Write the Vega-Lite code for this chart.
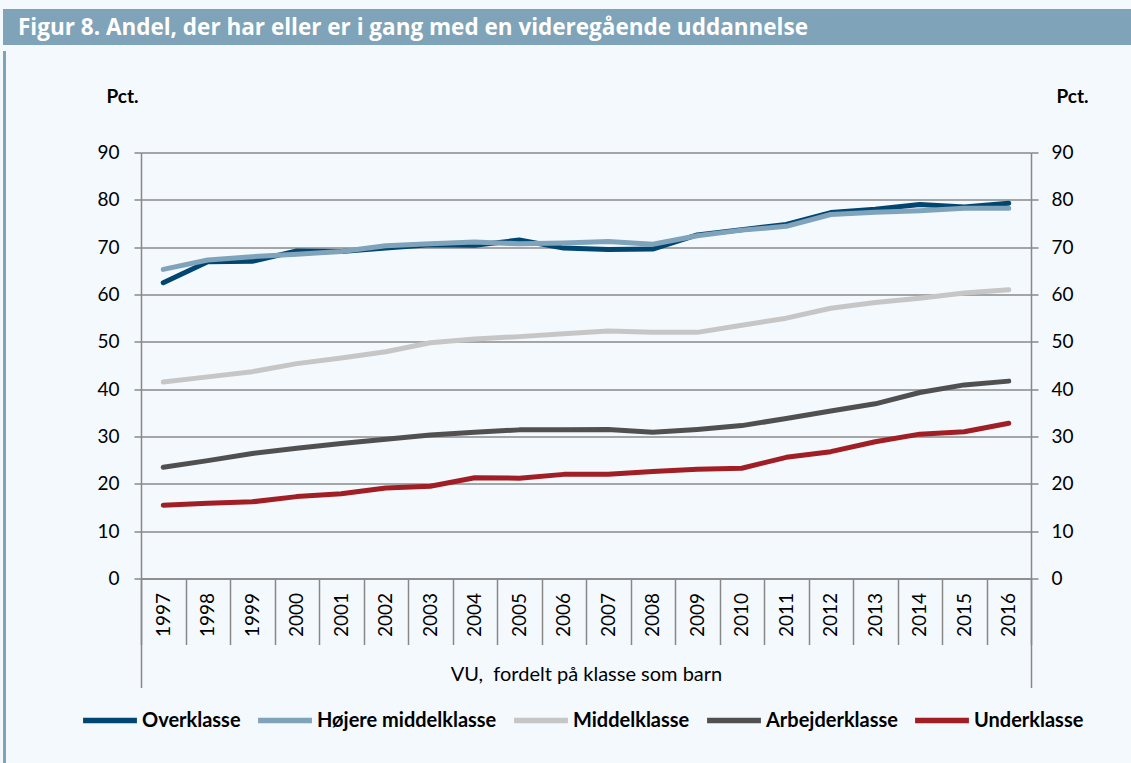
{
  "$schema": "https://vega.github.io/schema/vega-lite/v6.json",
  "padding": {"left": 3, "top": 9, "right": 0, "bottom": 0},
  "background": "#f4f9fd",
  "config": {
    "font": "Lato",
    "view": {"stroke": null},
    "axis": {"labelFont": "Lato", "titleFont": "Lato", "labelColor": "#000000", "titleColor": "#000000"},
    "legend": {"labelFont": "Lato"}
  },
  "datasets": {
    "blank": [{"s": ""}],
    "title": [{"t": "Figur 8. Andel, der har eller er i gang med en videregående uddannelse"}],
    "main": [
      {"year": "1997", "series": "Overklasse", "value": 62.5},
      {"year": "1998", "series": "Overklasse", "value": 66.9},
      {"year": "1999", "series": "Overklasse", "value": 67.0},
      {"year": "2000", "series": "Overklasse", "value": 69.2},
      {"year": "2001", "series": "Overklasse", "value": 69.1},
      {"year": "2002", "series": "Overklasse", "value": 69.8},
      {"year": "2003", "series": "Overklasse", "value": 70.5},
      {"year": "2004", "series": "Overklasse", "value": 70.4},
      {"year": "2005", "series": "Overklasse", "value": 71.5},
      {"year": "2006", "series": "Overklasse", "value": 69.8},
      {"year": "2007", "series": "Overklasse", "value": 69.5},
      {"year": "2008", "series": "Overklasse", "value": 69.6},
      {"year": "2009", "series": "Overklasse", "value": 72.6},
      {"year": "2010", "series": "Overklasse", "value": 73.7},
      {"year": "2011", "series": "Overklasse", "value": 74.8},
      {"year": "2012", "series": "Overklasse", "value": 77.3},
      {"year": "2013", "series": "Overklasse", "value": 78.0},
      {"year": "2014", "series": "Overklasse", "value": 79.0},
      {"year": "2015", "series": "Overklasse", "value": 78.5},
      {"year": "2016", "series": "Overklasse", "value": 79.3},
      {"year": "1997", "series": "Højere middelklasse", "value": 65.3},
      {"year": "1998", "series": "Højere middelklasse", "value": 67.3},
      {"year": "1999", "series": "Højere middelklasse", "value": 68.0},
      {"year": "2000", "series": "Højere middelklasse", "value": 68.5},
      {"year": "2001", "series": "Højere middelklasse", "value": 69.1},
      {"year": "2002", "series": "Højere middelklasse", "value": 70.3},
      {"year": "2003", "series": "Højere middelklasse", "value": 70.7},
      {"year": "2004", "series": "Højere middelklasse", "value": 71.1},
      {"year": "2005", "series": "Højere middelklasse", "value": 70.7},
      {"year": "2006", "series": "Højere middelklasse", "value": 70.9},
      {"year": "2007", "series": "Højere middelklasse", "value": 71.2},
      {"year": "2008", "series": "Højere middelklasse", "value": 70.6},
      {"year": "2009", "series": "Højere middelklasse", "value": 72.4},
      {"year": "2010", "series": "Højere middelklasse", "value": 73.6},
      {"year": "2011", "series": "Højere middelklasse", "value": 74.4},
      {"year": "2012", "series": "Højere middelklasse", "value": 76.9},
      {"year": "2013", "series": "Højere middelklasse", "value": 77.4},
      {"year": "2014", "series": "Højere middelklasse", "value": 77.7},
      {"year": "2015", "series": "Højere middelklasse", "value": 78.2},
      {"year": "2016", "series": "Højere middelklasse", "value": 78.2},
      {"year": "1997", "series": "Middelklasse", "value": 41.5},
      {"year": "1998", "series": "Middelklasse", "value": 42.6},
      {"year": "1999", "series": "Middelklasse", "value": 43.7},
      {"year": "2000", "series": "Middelklasse", "value": 45.4},
      {"year": "2001", "series": "Middelklasse", "value": 46.6},
      {"year": "2002", "series": "Middelklasse", "value": 47.9},
      {"year": "2003", "series": "Middelklasse", "value": 49.8},
      {"year": "2004", "series": "Middelklasse", "value": 50.6},
      {"year": "2005", "series": "Middelklasse", "value": 51.1},
      {"year": "2006", "series": "Middelklasse", "value": 51.7},
      {"year": "2007", "series": "Middelklasse", "value": 52.3},
      {"year": "2008", "series": "Middelklasse", "value": 52.0},
      {"year": "2009", "series": "Middelklasse", "value": 52.0},
      {"year": "2010", "series": "Middelklasse", "value": 53.5},
      {"year": "2011", "series": "Middelklasse", "value": 55.0},
      {"year": "2012", "series": "Middelklasse", "value": 57.1},
      {"year": "2013", "series": "Middelklasse", "value": 58.3},
      {"year": "2014", "series": "Middelklasse", "value": 59.2},
      {"year": "2015", "series": "Middelklasse", "value": 60.3},
      {"year": "2016", "series": "Middelklasse", "value": 61.0},
      {"year": "1997", "series": "Arbejderklasse", "value": 23.5},
      {"year": "1998", "series": "Arbejderklasse", "value": 24.9},
      {"year": "1999", "series": "Arbejderklasse", "value": 26.4},
      {"year": "2000", "series": "Arbejderklasse", "value": 27.5},
      {"year": "2001", "series": "Arbejderklasse", "value": 28.5},
      {"year": "2002", "series": "Arbejderklasse", "value": 29.4},
      {"year": "2003", "series": "Arbejderklasse", "value": 30.3},
      {"year": "2004", "series": "Arbejderklasse", "value": 30.9},
      {"year": "2005", "series": "Arbejderklasse", "value": 31.4},
      {"year": "2006", "series": "Arbejderklasse", "value": 31.4},
      {"year": "2007", "series": "Arbejderklasse", "value": 31.5},
      {"year": "2008", "series": "Arbejderklasse", "value": 30.9},
      {"year": "2009", "series": "Arbejderklasse", "value": 31.5},
      {"year": "2010", "series": "Arbejderklasse", "value": 32.3},
      {"year": "2011", "series": "Arbejderklasse", "value": 33.8},
      {"year": "2012", "series": "Arbejderklasse", "value": 35.4},
      {"year": "2013", "series": "Arbejderklasse", "value": 36.9},
      {"year": "2014", "series": "Arbejderklasse", "value": 39.3},
      {"year": "2015", "series": "Arbejderklasse", "value": 40.9},
      {"year": "2016", "series": "Arbejderklasse", "value": 41.7},
      {"year": "1997", "series": "Underklasse", "value": 15.5},
      {"year": "1998", "series": "Underklasse", "value": 15.9},
      {"year": "1999", "series": "Underklasse", "value": 16.2},
      {"year": "2000", "series": "Underklasse", "value": 17.3},
      {"year": "2001", "series": "Underklasse", "value": 17.9},
      {"year": "2002", "series": "Underklasse", "value": 19.1},
      {"year": "2003", "series": "Underklasse", "value": 19.5},
      {"year": "2004", "series": "Underklasse", "value": 21.3},
      {"year": "2005", "series": "Underklasse", "value": 21.2},
      {"year": "2006", "series": "Underklasse", "value": 22.0},
      {"year": "2007", "series": "Underklasse", "value": 22.0},
      {"year": "2008", "series": "Underklasse", "value": 22.6},
      {"year": "2009", "series": "Underklasse", "value": 23.1},
      {"year": "2010", "series": "Underklasse", "value": 23.3},
      {"year": "2011", "series": "Underklasse", "value": 25.6},
      {"year": "2012", "series": "Underklasse", "value": 26.8},
      {"year": "2013", "series": "Underklasse", "value": 28.9},
      {"year": "2014", "series": "Underklasse", "value": 30.5},
      {"year": "2015", "series": "Underklasse", "value": 31.0},
      {"year": "2016", "series": "Underklasse", "value": 32.8}
    ]
  },
  "spacing": 0,
  "resolve": {"scale": {"color": "independent"}, "legend": {"color": "independent"}},
  "vconcat": [
    {
      "data": {"name": "title"},
      "width": 1128,
      "height": 36,
      "view": {"fill": "#7fa3b8", "stroke": null},
      "mark": {"type": "text", "align": "left", "baseline": "middle", "dx": -549, "dy": 1, "color": "#ffffff", "font": "Open Sans", "fontSize": 22.5, "fontWeight": "bold"},
      "encoding": {"text": {"field": "t"}}
    },
    {
      "spacing": 0,
      "resolve": {"scale": {"color": "independent"}, "legend": {"color": "independent"}},
      "hconcat": [
        {
          "data": {"name": "blank"},
          "width": 3,
          "height": 718,
          "view": {"fill": "#7fa3b8", "stroke": null},
          "mark": {"type": "text", "text": ""}
        },
        {
          "spacing": 29.5,
          "resolve": {"scale": {"color": "independent"}, "legend": {"color": "independent"}},
          "vconcat": [
            {
              "data": {"name": "blank"},
              "width": 1,
              "height": 1,
              "view": {"stroke": null},
              "mark": {"type": "text", "text": ""}
            },
            {
              "data": {"name": "main"},
              "width": 890,
              "height": 426,
              "resolve": {"axis": {"x": "independent", "y": "independent"}},
              "layer": [
                {
                  "mark": {"type": "line", "strokeWidth": 5, "strokeCap": "round", "strokeJoin": "round"},
                  "encoding": {
                    "x": {
                      "field": "year", "type": "ordinal", "bandPosition": 0.5,
                      "scale": {"type": "band", "paddingInner": 0, "paddingOuter": 0},
                      "axis": {
                        "orient": "bottom",
                        "title": "VU,\u00a0 fordelt på klasse som barn",
                        "tickBand": "extent", "tickSize": 66, "tickColor": "#888888", "tickWidth": 1.5,
                        "domainColor": "#888888", "domainWidth": 1.5,
                        "labelAngle": -90, "labelAlign": "right", "labelBaseline": "middle",
                        "labelPadding": -52, "labelFontSize": 19,
                        "titleFontSize": 20, "titleFontWeight": "normal", "titleY": 101.5, "titleBaseline": "alphabetic",
                        "grid": false
                      }
                    },
                    "y": {
                      "field": "value", "type": "quantitative",
                      "scale": {"domain": [0, 90], "nice": false},
                      "axis": {
                        "orient": "left",
                        "values": [0, 10, 20, 30, 40, 50, 60, 70, 80, 90],
                        "title": "Pct.", "titleAngle": 0, "titleAlign": "left", "titleBaseline": "alphabetic",
                        "titleX": -35, "titleY": -50.5, "titleFontSize": 19, "titleFontWeight": "bold",
                        "grid": true, "gridColor": "#888888", "gridWidth": 1.5,
                        "domainColor": "#888888", "domainWidth": 1.5,
                        "tickColor": "#888888", "tickWidth": 1.5, "tickSize": 7,
                        "labelFontSize": 19, "labelPadding": 15,
                        "minExtent": 135, "maxExtent": 200
                      }
                    },
                    "color": {
                      "field": "series", "type": "nominal",
                      "scale": {
                        "domain": ["Overklasse", "Højere middelklasse", "Middelklasse", "Arbejderklasse", "Underklasse"],
                        "range": ["#004671", "#7fa3ba", "#c6c6c6", "#505050", "#a21e25"]
                      },
                      "legend": {
                        "orient": "none", "legendX": -61, "legendY": 538,
                        "direction": "horizontal", "title": null,
                        "symbolType": "stroke", "symbolSize": 2900, "symbolStrokeWidth": 5.5,
                        "labelFontSize": 20, "labelFontWeight": "bold", "labelColor": "#000000",
                        "labelOffset": 2, "columnPadding": 6, "labelLimit": 400
                      }
                    }
                  }
                },
                {
                  "mark": {"type": "point", "opacity": 0},
                  "encoding": {
                    "x": {
                      "field": "year", "type": "ordinal",
                      "axis": {
                        "orient": "bottom", "values": ["1997"], "bandPosition": 0,
                        "tickSize": 109, "tickColor": "#888888", "tickWidth": 1.5,
                        "domain": false, "labels": false, "title": null, "grid": false
                      }
                    },
                    "y": {
                      "field": "value", "type": "quantitative",
                      "axis": {
                        "orient": "right",
                        "values": [0, 10, 20, 30, 40, 50, 60, 70, 80, 90],
                        "title": "Pct.", "titleAngle": 0, "titleAlign": "left", "titleBaseline": "alphabetic",
                        "titleX": 25, "titleY": -50.5, "titleFontSize": 19, "titleFontWeight": "bold",
                        "grid": false,
                        "domainColor": "#888888", "domainWidth": 1.5,
                        "tickColor": "#888888", "tickWidth": 1.5, "tickSize": 7,
                        "labelFontSize": 19, "labelPadding": 13
                      }
                    }
                  }
                },
                {
                  "mark": {"type": "point", "opacity": 0},
                  "encoding": {
                    "x": {
                      "field": "year", "type": "ordinal",
                      "axis": {
                        "orient": "bottom", "values": ["2016"], "bandPosition": 1,
                        "tickSize": 109, "tickColor": "#888888", "tickWidth": 1.5,
                        "domain": false, "labels": false, "title": null, "grid": false
                      }
                    },
                    "y": {"field": "value", "type": "quantitative", "axis": null}
                  }
                }
              ]
            }
          ]
        }
      ]
    }
  ]
}
